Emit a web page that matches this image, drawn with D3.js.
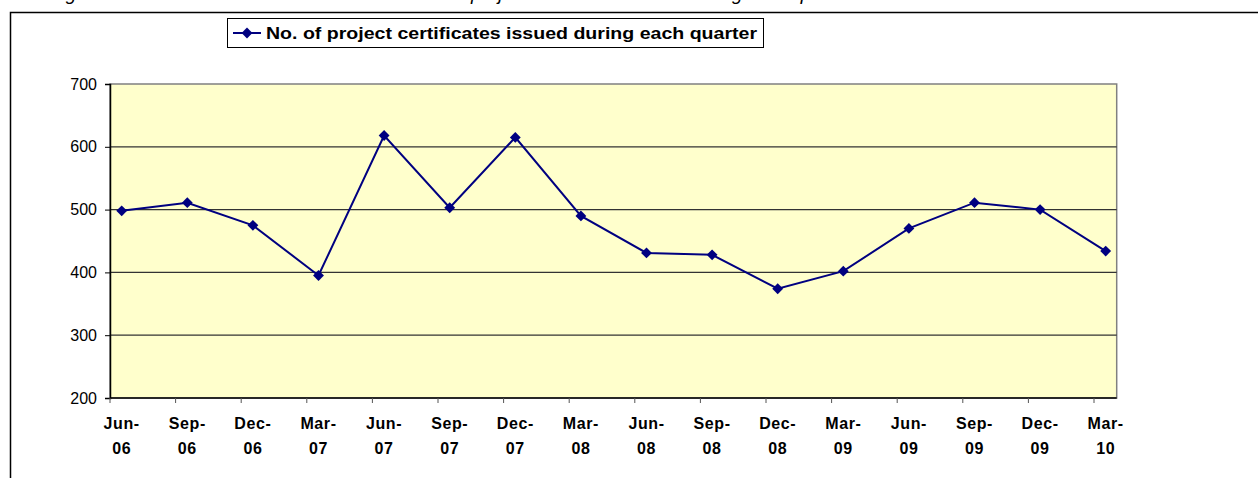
<!DOCTYPE html>
<html>
  <head>
    <meta charset="utf-8" />
    <title>Project certificates per quarter</title>
    <script src="https://d3js.org/d3.v7.min.js"></script>
    <style>
        body {
            margin:0;
            background: white;
        }
        text {
            font-family: "Liberation Sans", Arial, sans-serif;
        }
    </style>
  </head>
  <body>
      <svg id="viz"></svg>

    <script>

        var quarters = ["Jun-06", "Sep-06", "Dec-06", "Mar-07", "Jun-07", "Sep-07", "Dec-07", "Mar-08",
                        "Jun-08", "Sep-08", "Dec-08", "Mar-09", "Jun-09", "Sep-09", "Dec-09", "Mar-10"];
        var certificates = [498, 511, 475, 395, 618, 503, 615, 490, 431, 428, 374, 402, 470, 511, 500, 434];
        var yTicks = [200, 300, 400, 500, 600, 700];
        var seriesName = "No. of project certificates issued during each quarter";

        var width = 1258;
        var height = 478;

        var svg = d3.select("#viz")
          .attr("width", width)
          .attr("height", height);

        // caption above the chart, only its descenders show at the top edge
        svg.append("text")
          .attr("x", 50)
          .attr("y", -0.5)
          .attr("font-size", 19)
          .attr("font-style", "italic")
          .text("Figure 2: Trend in the number of RECs and no. of project certificates issued during each quarter");

        // chart area border
        svg.append("rect")
          .attr("x", 10.5).attr("y", 12.5)
          .attr("width", 1300).attr("height", 500)
          .attr("fill", "white")
          .attr("stroke", "black")
          .attr("stroke-width", 1.5);

        var plot = {left: 110, right: 1116.7, top: 84, bottom: 398};
        var tickOffset = -11.7; // category ticks sit left of the points

        var x = d3.scalePoint()
          .domain(quarters)
          .range([121.7, 1105.7]);

        var y = d3.scaleLinear()
          .domain([200, 700])
          .range([plot.bottom, plot.top]);

        svg.append("rect")
          .attr("x", plot.left).attr("y", plot.top)
          .attr("width", plot.right - plot.left)
          .attr("height", plot.bottom - plot.top)
          .attr("fill", "#FFFFCC")
          .attr("stroke", "#808080")
          .attr("stroke-width", 1.5);

        // gridlines
        svg.append("g").selectAll("line")
          .data(yTicks.filter(function (d) { return d > 200 && d < 700; }))
          .enter().append("line")
          .attr("x1", plot.left).attr("x2", plot.right)
          .attr("y1", function (d) { return y(d); })
          .attr("y2", function (d) { return y(d); })
          .attr("stroke", "#333")
          .attr("stroke-width", 1.2);

        // y axis
        var yAxis = svg.append("g")
          .attr("transform", "translate(" + plot.left + ",0)")
          .call(d3.axisLeft(y).tickValues(yTicks).tickSize(5).tickPadding(8));
        yAxis.select(".domain").attr("stroke", "black").attr("stroke-width", 1.5);
        yAxis.selectAll(".tick line").attr("stroke", "black");
        yAxis.selectAll(".tick text")
          .attr("font-size", 16)
          .attr("fill", "black")
          .style("font-family", "'Liberation Sans', Arial, sans-serif");

        // x axis
        svg.append("line")
          .attr("x1", plot.left).attr("x2", plot.right)
          .attr("y1", plot.bottom).attr("y2", plot.bottom)
          .attr("stroke", "black")
          .attr("stroke-width", 1.5);

        svg.append("g").selectAll("line")
          .data(quarters)
          .enter().append("line")
          .attr("x1", function (d) { return x(d) + tickOffset; })
          .attr("x2", function (d) { return x(d) + tickOffset; })
          .attr("y1", plot.bottom).attr("y2", plot.bottom + 5)
          .attr("stroke", "#555");

        var xLabels = svg.append("g").selectAll("text")
          .data(quarters)
          .enter().append("text")
          .attr("text-anchor", "middle")
          .attr("font-size", 16)
          .attr("font-weight", "bold")
          .attr("letter-spacing", 0.6)
          .attr("fill", "black");
        xLabels.append("tspan")
          .attr("x", function (d) { return x(d); })
          .attr("y", 429)
          .text(function (d) { return d.split("-")[0] + "-"; });
        xLabels.append("tspan")
          .attr("x", function (d) { return x(d); })
          .attr("y", 454)
          .text(function (d) { return d.split("-")[1]; });

        // series line
        var line = d3.line()
          .x(function (d, i) { return x(quarters[i]); })
          .y(function (d) { return y(d); });

        svg.append("path")
          .datum(certificates)
          .attr("d", line)
          .attr("fill", "none")
          .attr("stroke", "#000080")
          .attr("stroke-width", 2);

        var diamond = d3.symbol().type(d3.symbolDiamond2).size(75);

        svg.append("g").selectAll("path")
          .data(certificates)
          .enter().append("path")
          .attr("d", diamond)
          .attr("fill", "#000080")
          .attr("transform", function (d, i) {
              return "translate(" + x(quarters[i]) + "," + y(d) + ")";
          });

        // legend
        var legend = svg.append("g");
        legend.append("rect")
          .attr("x", 227.5).attr("y", 18.5)
          .attr("width", 536).attr("height", 29)
          .attr("fill", "white")
          .attr("stroke", "black")
          .attr("stroke-width", 1);
        legend.append("line")
          .attr("x1", 233).attr("x2", 261)
          .attr("y1", 33).attr("y2", 33)
          .attr("stroke", "#000080")
          .attr("stroke-width", 2);
        legend.append("path")
          .attr("d", diamond)
          .attr("fill", "#000080")
          .attr("transform", "translate(247,33)");
        legend.append("text")
          .attr("x", 266)
          .attr("y", 39)
          .attr("font-size", 17)
          .attr("font-weight", "bold")
          .attr("fill", "black")
          .attr("textLength", 491)
          .attr("lengthAdjust", "spacingAndGlyphs")
          .text(seriesName);

    </script>
  </body>
</html>
